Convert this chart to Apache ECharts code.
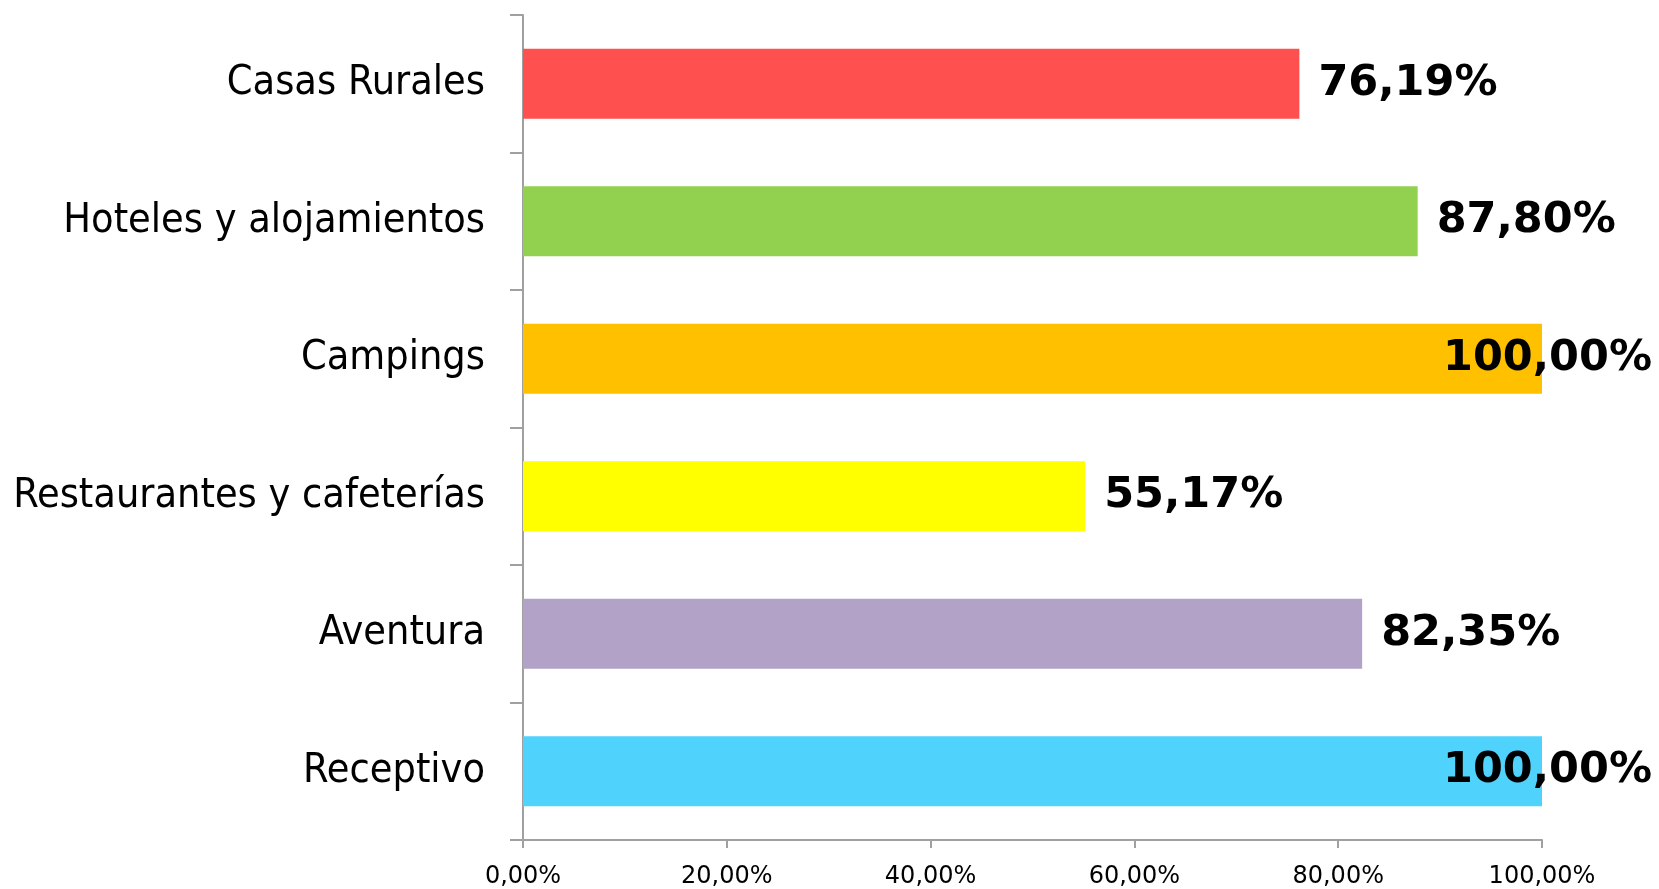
<!DOCTYPE html>
<html>
<head>
<meta charset="utf-8">
<script src="https://cdn.jsdelivr.net/npm/echarts@6/dist/echarts.min.js"></script>
<style>html,body{margin:0;padding:0;background:#fff}#c{width:1659px;height:889px}</style>
</head>
<body>
<div id="c"></div>
<script>
const categories = ["Casas Rurales", "Hoteles y alojamientos", "Campings", "Restaurantes y cafeterías", "Aventura", "Receptivo"];
const values = [76.19, 87.80, 100.00, 55.17, 82.35, 100.00];
const barColors = ["#FF5050", "#92D050", "#FFC000", "#FFFF00", "#B2A2C7", "#4FD2FC"];
const xTicks = [0, 20, 40, 60, 80, 100];

const fmt = v => v.toFixed(2).replace('.', ',') + '%';

const chart = echarts.init(document.getElementById('c'));
chart.setOption({
  animation: false,
  backgroundColor: '#fff',
  grid: { left: 523, top: 15, width: 1019, height: 826 },
  xAxis: {
    type: 'value', min: xTicks[0], max: xTicks[xTicks.length - 1], interval: xTicks[1] - xTicks[0],
    axisLine: { show: true, lineStyle: { color: '#A0A0A0', width: 2 } },
    axisTick: { show: true, length: 8, lineStyle: { color: '#A0A0A0', width: 2 } },
    splitLine: { show: false },
    axisLabel: { formatter: fmt, fontFamily: 'DejaVu Sans', fontSize: 24, color: '#000', margin: 25 }
  },
  yAxis: {
    type: 'category', data: categories, inverse: true,
    axisLine: { show: true, lineStyle: { color: '#A0A0A0', width: 2 } },
    axisTick: { show: true, length: 13, lineStyle: { color: '#A0A0A0', width: 2 } },
    axisLabel: { fontFamily: '"DejaVu Sans Condensed", "DejaVu Sans"', fontSize: 41, color: '#000', margin: 38 }
  },
  series: [{
    type: 'bar',
    barCategoryGap: '49%',
    data: values.map((v, i) => ({
      value: v,
      itemStyle: { color: barColors[i] },
      label: v >= 100 ? { offset: [-118, 0] } : {}
    })),
    label: {
      show: true, position: 'right', distance: 19,
      formatter: p => fmt(p.value),
      fontFamily: 'DejaVu Sans', fontWeight: 'bold', fontSize: 43, color: '#000'
    }
  }]
});
</script>
</body>
</html>
